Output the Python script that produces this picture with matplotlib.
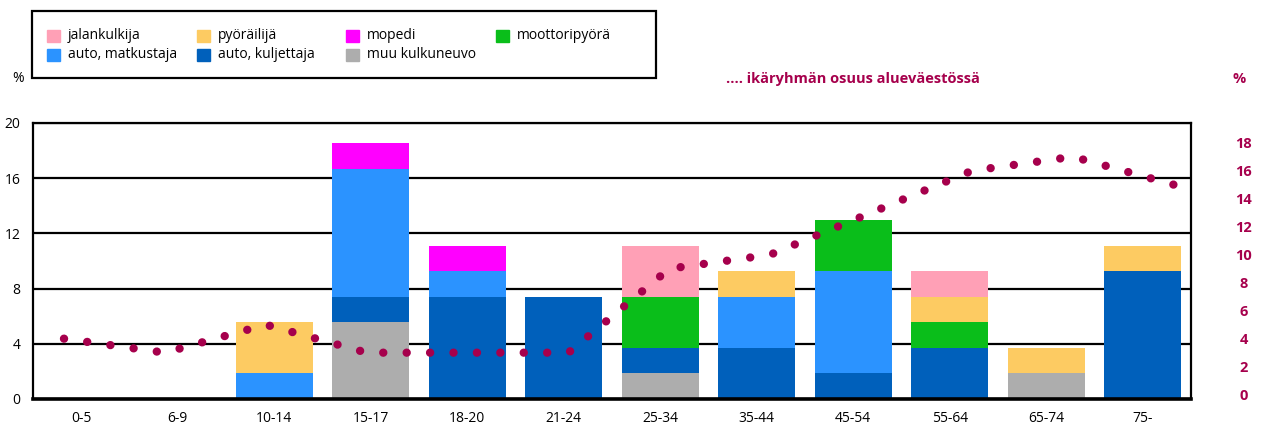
import numpy as np
import matplotlib.pyplot as plt
from matplotlib.patches import Rectangle

plt.rcParams['font.family'] = ['Open Sans', 'DejaVu Sans']

W, H = 1267, 428
CRIMSON = '#a6004c'

ages = ['0-5', '6-9', '10-14', '15-17', '18-20', '21-24',
        '25-34', '35-44', '45-54', '55-64', '65-74', '75-']

# kulkumuotojen osuudet (%), pinoamisjärjestyksessä alhaalta ylös
muu_kulkuneuvo = [0, 0, 0, 5.56, 0, 0, 1.85, 0, 0, 0, 1.85, 0]
auto_kuljettaja = [0, 0, 0, 1.85, 7.41, 7.41, 1.85, 3.70, 1.85, 3.70, 0, 9.26]
auto_matkustaja = [0, 0, 1.85, 9.26, 1.85, 0, 0, 3.70, 7.41, 0, 0, 0]
moottoripyora = [0, 0, 0, 0, 0, 0, 3.70, 0, 3.70, 1.85, 0, 0]
mopedi = [0, 0, 0, 1.85, 1.85, 0, 0, 0, 0, 0, 0, 0]
pyorailija = [0, 0, 3.70, 0, 0, 0, 0, 1.85, 0, 1.85, 1.85, 1.85]
jalankulkija = [0, 0, 0, 0, 0, 0, 3.70, 0, 0, 1.85, 0, 0]

# ikäryhmän osuus alueväestössä (%)
vaesto_osuus = [4, 3, 5, 3, 3, 3, 9, 10, 13, 16, 17, 15]

series = [
    ('muu kulkuneuvo', muu_kulkuneuvo, '#adadad'),
    ('auto, kuljettaja', auto_kuljettaja, '#0060bb'),
    ('auto, matkustaja', auto_matkustaja, '#2b93ff'),
    ('moottoripyörä', moottoripyora, '#0abe1a'),
    ('mopedi', mopedi, '#ff00ff'),
    ('pyöräilijä', pyorailija, '#fdcb62'),
    ('jalankulkija', jalankulkija, '#ffa0b6'),
]
legend_rows = [['jalankulkija', 'pyöräilijä', 'mopedi', 'moottoripyörä'],
               ['auto, matkustaja', 'auto, kuljettaja', 'muu kulkuneuvo']]


def fx(x):
    return x / W


def fy(y):
    return 1 - y / H


fig = plt.figure(figsize=(W / 100, H / 100), dpi=100)
rect = [fx(33), fy(399), (1191 - 33) / W, (399 - 123) / H]

ax = fig.add_axes(rect)
x = np.arange(len(ages))
bottom = np.zeros(len(ages))
for name, vals, col in series:
    ax.bar(x, vals, width=0.8, bottom=bottom, color=col, zorder=2)
    bottom += np.array(vals)

ax.set_xlim(-0.5, 11.5)
ax.set_ylim(0, 20)
ax.set_yticks([0, 4, 8, 12, 16, 20])
ax.set_xticks(x)
ax.set_xticklabels(ages)
ax.yaxis.grid(True, color='black', lw=1.6)
ax.set_axisbelow(True)
ax.tick_params(axis='x', length=0, pad=9, labelsize=10)
ax.tick_params(axis='y', length=0, pad=9, labelsize=10)
for s in ['top', 'left', 'right']:
    ax.spines[s].set_linewidth(1.6)
ax.spines['bottom'].set_linewidth(2.6)

# väestöosuus omalla asteikollaan
ax2 = fig.add_axes(rect, frameon=False)
ax2.plot(x, vaesto_osuus, color=CRIMSON, lw=6, ls=(0, (0.01, 2.8)),
         dash_capstyle='round', zorder=3)
ax2.set_xlim(-0.307, 11.17)
ax2.set_ylim(-0.31, 19.41)
ax2.set_xticks([])
ax2.yaxis.tick_right()
ax2.set_yticks(range(0, 19, 2))
ax2.tick_params(axis='y', length=0, pad=38, labelsize=10.5, labelcolor=CRIMSON)
for lab in ax2.get_yticklabels():
    lab.set_fontweight('bold')
    lab.set_horizontalalignment('center')

# selite
fig.add_artist(Rectangle((fx(32), fy(78)), 624 / W, 67 / H, transform=fig.transFigure,
                         fill=False, edgecolor='black', lw=1.6))
colors = {name: col for name, vals, col in series}
col_x = [47, 197, 346, 496]
row_y = [35.5, 54.5]
for r, names in enumerate(legend_rows):
    for c, name in enumerate(names):
        fig.add_artist(Rectangle((fx(col_x[c]), fy(row_y[r] + 6)), 13 / W, 12 / H,
                                 transform=fig.transFigure, color=colors[name]))
        fig.text(fx(col_x[c] + 21), fy(row_y[r]), name, ha='left', va='center', fontsize=10)

fig.text(fx(18), fy(79), '%', ha='center', va='center', fontsize=10)
fig.text(fx(726), fy(79), '.... ikäryhmän osuus alueväestössä', ha='left', va='center',
         fontsize=10.5, fontweight='bold', color=CRIMSON)
fig.text(fx(1239), fy(79), '%', ha='center', va='center', fontsize=10.5,
         fontweight='bold', color=CRIMSON)

fig.savefig('out.png', dpi=100)
